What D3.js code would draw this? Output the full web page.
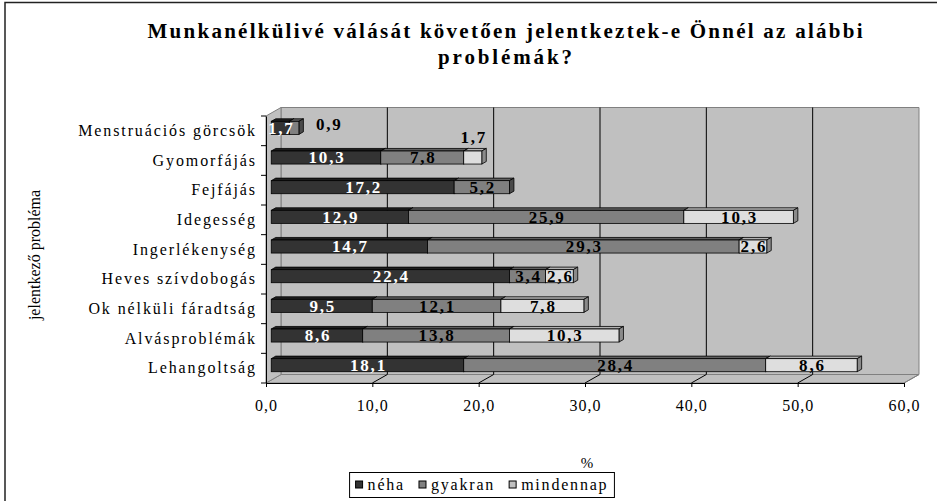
<!DOCTYPE html>
<html>
<head>
<meta charset="utf-8">
<script src="https://cdn.jsdelivr.net/npm/d3@7"></script>
<style>
  body { margin: 0; background: #fff; }
  svg { display: block; }
  text { font-family: "Liberation Serif", "Times New Roman", serif; }
</style>
</head>
<body>
<svg id="chart" width="937" height="501"></svg>
<script>
// chart values
const categories = ["Menstruációs görcsök", "Gyomorfájás", "Fejfájás", "Idegesség", "Ingerlékenység",
  "Heves szívdobogás", "Ok nélküli fáradtság", "Alvásproblémák", "Lehangoltság"];
const neha      = [1.7, 10.3, 17.2, 12.9, 14.7, 22.4, 9.5, 8.6, 18.1];
const gyakran   = [0.9, 7.8, 5.2, 25.9, 29.3, 3.4, 12.1, 13.8, 28.4];
const mindennap = [0, 1.7, 0, 10.3, 2.6, 2.6, 7.8, 10.3, 8.6];
const seriesNames = ["néha", "gyakran", "mindennap"];
const xTicks = [0, 10, 20, 30, 40, 50, 60];
const titleLines = ["Munkanélkülivé válását követően jelentkeztek-e Önnél az alábbi", "problémák?"];
const yTitle = "jelentkező probléma";
const xTitle = "%";

// labels excel pushed off their segment
const labelPlace = { "Menstruációs görcsök|gyakran": "right", "Gyomorfájás|mindennap": "above" };

const W = 937, H = 501;
const svg = d3.select("#chart");

const x = d3.scaleLinear().domain([0, 60]).range([266, 904]);
const y = d3.scaleBand().domain(categories).range([116, 383]);
const depth = { dx: 15, dy: -8.5 };   // fake 3d: offset of the back wall
const yTop = y.range()[0], yBot = y.range()[1];
const pt = (v, yy, d) => [x(v) + d * depth.dx, yy + d * depth.dy];
const poly = pts => "M" + pts.map(p => p.join(",")).join("L") + "Z";
const fmt = v => d3.format(".1f")(v).replace(".", ",");

const faceFill  = ["#333333", "#808080", "#dedede"];
const topFill   = ["#1f1f1f", "#5f5f5f", "#b2b2b2"];
const capFill   = ["#141414", "#4a4a4a", "#8a8a8a"];
const swatchFill = ["#333333", "#808080", "#c0c0c0"];
const labelFill = ["#fff", "#000", "#000"];

// outer chart frame (right and bottom run off the page)
svg.append("rect")
  .attr("x", 5).attr("y", 2.5).attr("width", W + 20).attr("height", H + 20)
  .attr("fill", "none").attr("stroke", "#222").attr("stroke-width", 1.5);

// title
const titleWidths = [715, 134];
svg.append("g").selectAll("text").data(titleLines).join("text")
  .attr("x", 505).attr("y", (d, i) => 38 + i * 26)
  .attr("text-anchor", "middle")
  .attr("font-size", 21).attr("font-weight", "bold")
  .attr("textLength", (d, i) => titleWidths[i]).attr("lengthAdjust", "spacing")
  .text(d => d);

// walls
const walls = svg.append("g");
walls.append("path")   // back
  .attr("d", poly([pt(0, yTop, 1), pt(60, yTop, 1), pt(60, yBot, 1), pt(0, yBot, 1)]))
  .attr("fill", "#c0c0c0").attr("stroke", "#808080");
walls.append("path")   // floor
  .attr("d", poly([pt(0, yBot, 0), pt(60, yBot, 0), pt(60, yBot, 1), pt(0, yBot, 1)]))
  .attr("fill", "#c0c0c0").attr("stroke", "#808080");
walls.append("path")   // left side
  .attr("d", poly([pt(0, yTop, 0), pt(0, yTop, 1), pt(0, yBot, 1), pt(0, yBot, 0)]))
  .attr("fill", "#c0c0c0").attr("stroke", "#808080");

// gridlines on back wall + floor
walls.selectAll("line.grid").data(xTicks.slice(1, -1)).join("line")
  .attr("class", "grid")
  .attr("x1", d => pt(d, yTop, 1)[0]).attr("y1", d => pt(d, yTop, 1)[1])
  .attr("x2", d => pt(d, yBot, 1)[0]).attr("y2", d => pt(d, yBot, 1)[1])
  .attr("stroke", "#000");
walls.selectAll("line.floor").data(xTicks.slice(1)).join("line")
  .attr("class", "floor")
  .attr("x1", d => pt(d, yBot, 0)[0]).attr("y1", d => pt(d, yBot, 0)[1])
  .attr("x2", d => pt(d, yBot, 1)[0]).attr("y2", d => pt(d, yBot, 1)[1])
  .attr("stroke", d => d === 60 ? "#808080" : "#000");

// axes
const xAxis = svg.append("g")
  .attr("transform", `translate(0,${yBot})`)
  .call(d3.axisBottom(x).tickValues(xTicks).tickSize(4).tickSizeOuter(0).tickPadding(13).tickFormat(fmt));
xAxis.selectAll("text").attr("font-size", 16).attr("letter-spacing", 1);

const yAxis = svg.append("g")
  .attr("transform", `translate(${x(0)},0)`)
  .call(d3.axisLeft(y).tickSize(0).tickSizeOuter(0).tickPadding(9));
yAxis.selectAll("text").attr("font-size", 16).attr("letter-spacing", 1.9);
svg.selectAll(".domain").attr("stroke", "#000");

// left ticks sit on band edges
svg.append("g").selectAll("line").data(categories.map(c => y(c)).concat([yBot])).join("line")
  .attr("x1", x(0) - 5).attr("x2", x(0)).attr("y1", d => d).attr("y2", d => d)
  .attr("stroke", "#000");

// axis titles
svg.append("text")
  .attr("x", x(30) + 2).attr("y", 468)
  .attr("text-anchor", "middle").attr("font-size", 15)
  .text(xTitle);
svg.append("text")
  .attr("transform", "translate(34,255) rotate(-90)")
  .attr("text-anchor", "middle").attr("dominant-baseline", "central")
  .attr("font-size", 16)
  .text(yTitle);

// stacked 3d bars
const rows = categories.map((c, i) => ({ cat: c, "néha": neha[i], "gyakran": gyakran[i], "mindennap": mindennap[i] }));
const stacked = d3.stack().keys(seriesNames)(rows);

const d1 = 0.35, d2 = 0.65;             // front / back depth of the bars
const barH = y.bandwidth() * 0.44;
const ox = (d2 - d1) * depth.dx, oy = (d2 - d1) * depth.dy;

const bars = svg.append("g");
const labels = [];
categories.forEach((cat, i) => {
  const cy = y(cat) + y.bandwidth() / 2 + d1 * depth.dy;
  const top = cy - barH / 2, bot = cy + barH / 2;
  stacked.forEach((s, k) => {
    const [a, b] = s[i];
    if (b - a <= 0) return;
    const xa = x(a) + d1 * depth.dx, xb = x(b) + d1 * depth.dx;
    bars.append("path")
      .attr("d", poly([[xa, top], [xb, top], [xb + ox, top + oy], [xa + ox, top + oy]]))
      .attr("fill", topFill[k]).attr("stroke", "#000").attr("stroke-width", 0.8);
    bars.append("path")
      .attr("d", poly([[xb, top], [xb + ox, top + oy], [xb + ox, bot + oy], [xb, bot]]))
      .attr("fill", capFill[k]).attr("stroke", "#000").attr("stroke-width", 0.8);
    bars.append("rect")
      .attr("x", xa).attr("y", top).attr("width", xb - xa).attr("height", barH)
      .attr("fill", faceFill[k]).attr("stroke", "#000").attr("stroke-width", 0.8);

    const place = labelPlace[cat + "|" + s.key];
    let lx = (xa + xb) / 2, ly = cy, anchor = "middle";
    if (place === "right") { lx = xb + 16; ly = cy - 4; anchor = "start"; }
    if (place === "above") { ly = top - 14; }
    labels.push({ v: b - a, lx, ly, anchor, fill: place ? "#000" : labelFill[k] });
  });
});

svg.append("g").selectAll("text").data(labels).join("text")
  .attr("x", d => d.lx + 1).attr("y", d => d.ly)
  .attr("dy", "0.35em")
  .attr("text-anchor", d => d.anchor)
  .attr("font-size", 17).attr("font-weight", "bold").attr("letter-spacing", 1.8)
  .attr("fill", d => d.fill)
  .text(d => fmt(d.v));

// legend
const leg = svg.append("g");
const legBox = leg.append("rect").attr("fill", "#fff").attr("stroke", "#000");
let lx = 0;
seriesNames.forEach((name, k) => {
  const g = leg.append("g").attr("transform", `translate(${lx},0)`);
  g.append("rect").attr("x", 0).attr("y", -4).attr("width", 7).attr("height", 7)
    .attr("fill", swatchFill[k]).attr("stroke", "#000");
  const t = g.append("text").attr("x", 12).attr("y", 0).attr("dy", "0.32em")
    .attr("font-size", 16).attr("letter-spacing", 1.8).text(name);
  lx += 12 + t.node().getComputedTextLength() + 14;
});
const legW = lx - 14 + 12;
const legX = 482 - legW / 2, legY = 485;
leg.attr("transform", `translate(${legX + 6},${legY})`);
legBox.attr("x", -6).attr("y", -12.5).attr("width", legW).attr("height", 25);
</script>
</body>
</html>
